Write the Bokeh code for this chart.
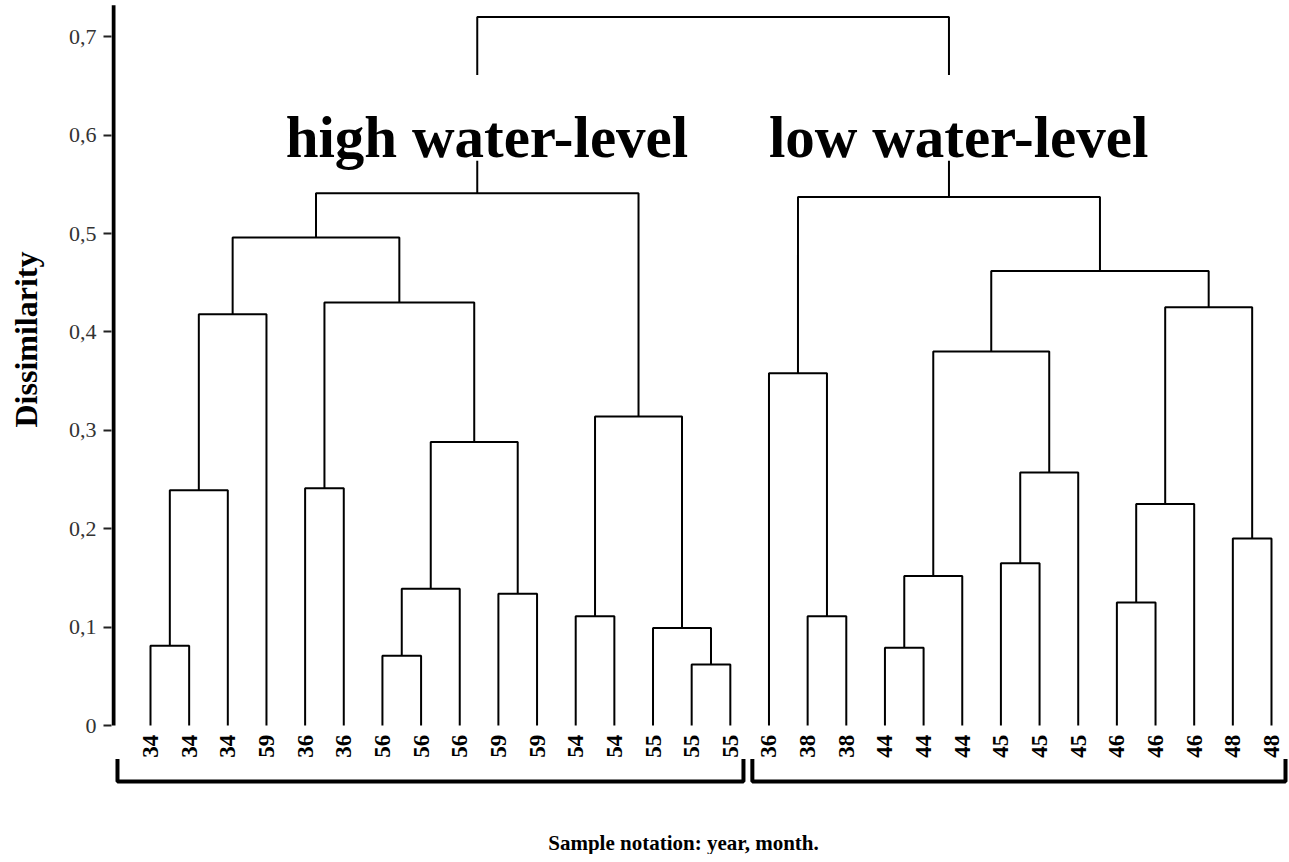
import math
from bokeh.plotting import figure
from bokeh.models import FixedTicker, CustomJSTickFormatter
from bokeh.core.properties import value
from bokeh.embed import file_html
from bokeh.resources import INLINE

# ---------------- data ----------------
leaf_labels = ["34", "34", "34", "59", "36", "36", "56", "56", "56", "59", "59",
               "54", "54", "55", "55", "55",
               "36", "38", "38", "44", "44", "44", "45", "45", "45",
               "46", "46", "46", "48", "48"]

# merges (scipy-like): new node id = 30 + index
merge_a = [0, 30, 31, 4, 6, 34, 9, 35, 33, 32, 11, 14, 13, 40, 39,
           17, 16, 19, 47, 22, 49, 48, 25, 52, 28, 53, 51, 46, 44]
merge_b = [1, 2, 3, 5, 7, 8, 10, 36, 37, 38, 12, 15, 41, 42, 43,
           18, 45, 20, 21, 23, 24, 50, 26, 27, 29, 54, 55, 56, 57]
merge_h = [0.081, 0.239, 0.418, 0.241, 0.071, 0.139, 0.134, 0.288, 0.430, 0.496,
           0.111, 0.062, 0.099, 0.314, 0.541,
           0.111, 0.358, 0.079, 0.152, 0.165, 0.257, 0.380, 0.125, 0.225, 0.190,
           0.425, 0.462, 0.537, 0.720]

y_ticks = [0, 0.1, 0.2, 0.3, 0.4, 0.5, 0.6, 0.7]
group_names = ["high water-level", "low water-level"]
group_first = [0, 16]
group_last = [15, 29]
y_title = "Dissimilarity"
x_title = "Sample notation: year, month."

# ---------------- dendrogram geometry ----------------
n = len(leaf_labels)
node_x = {i: float(i) for i in range(n)}
node_h = {i: 0.0 for i in range(n)}
xs, ys = [], []
for k, (a, b, h) in enumerate(zip(merge_a, merge_b, merge_h)):
    xa, xb = node_x[a], node_x[b]
    xs.append([xa, xa, xb, xb])
    ys.append([node_h[a], h, h, node_h[b]])
    node_x[n + k] = (xa + xb) / 2.0
    node_h[n + k] = h
root_children = [merge_a[-1], merge_b[-1]]

# ---------------- figure ----------------
W, H = 1288, 854
frame_left = 111
px_x = 38.655
px_y = 984.0
x_start = (frame_left - 150) / px_x
x_end = x_start + (W - frame_left) / px_x
y_end = 725 / px_y
y_start = y_end - H / px_y

p = figure(width=W, height=H, output_backend="svg", toolbar_location=None,
           x_range=(x_start, x_end), y_range=(y_start, y_end),
           x_axis_location=None, min_border_left=frame_left, min_border_right=0,
           min_border_top=0, min_border_bottom=0)
p.outline_line_color = None
p.xgrid.visible = False
p.ygrid.visible = False
p.background_fill_color = "white"
p.border_fill_color = "white"

ax = p.yaxis[0]
ax.ticker = FixedTicker(ticks=y_ticks)
ax.formatter = CustomJSTickFormatter(code="return tick == 0 ? '0' : tick.toFixed(1).replace('.', ',');")
ax.axis_line_color = None
ax.major_tick_out = 8
ax.major_tick_in = 0
ax.major_tick_line_width = 2
ax.major_tick_line_color = "#222222"
ax.minor_tick_line_color = None
ax.major_label_standoff = 7
ax.major_label_text_font = "Liberation Serif"
ax.major_label_text_font_size = "22px"
ax.major_label_text_color = "#333333"
# leading no-break spaces lift the (frame-centred) axis title to where the reference has it
ax.axis_label = "\u00a0" * 22 + y_title
ax.axis_label_standoff = 22
ax.axis_label_text_font = "Liberation Serif"
ax.axis_label_text_font_style = "bold"
ax.axis_label_text_font_size = "32px"
ax.axis_label_text_color = "black"

# custom axis line from 0 to top
axis_x = x_start + 2 / px_x
p.segment(x0=[axis_x], y0=[0], x1=[axis_x], y1=[0.732], line_color="black", line_width=4)

# dendrogram
p.multi_line(xs=xs, ys=ys, line_color="black", line_width=2)

# leaf labels
p.text(x=list(range(n)), y=[-0.021] * n, text=leaf_labels, angle=math.pi / 2,
       text_align="center", text_baseline="middle",
       text_font=value("Liberation Serif"), text_font_style="bold",
       text_font_size=value("23px"), text_color="black")

# group brackets
bx, by = [], []
for g, (f, l) in enumerate(zip(group_first, group_last)):
    x0 = f - (0.854 if g == 0 else 0.43)
    x1 = l + 0.34 if g == 0 else min(l + 0.43, x_end - 3 / px_x)
    bx.append([x0, x0, x1, x1])
    by.append([-0.034, -0.057, -0.057, -0.034])
p.multi_line(xs=bx, ys=by, line_color="black", line_width=4)

# group titles with white gap over root branches
title_x = [node_x[c] + 0.25 for c in root_children]
p.quad(left=[x - 0.9 for x in title_x], right=[x + 0.9 for x in title_x],
       bottom=[0.574] * 2, top=[0.661] * 2, fill_color="white", line_color=None)
p.text(x=title_x, y=[0.5976] * 2, text=group_names, text_align="center",
       text_baseline="alphabetic", text_font=value("Liberation Serif"),
       text_font_style="bold", text_font_size=value("59px"), text_color="black")

# x title
p.text(x=[(683 - 150) / px_x], y=[-0.119], text=[x_title], text_align="center",
       text_baseline="middle", text_font=value("Liberation Serif"),
       text_font_style="bold", text_font_size=value("21px"), text_color="black")

open("out.html", "w").write(file_html(p, INLINE))
